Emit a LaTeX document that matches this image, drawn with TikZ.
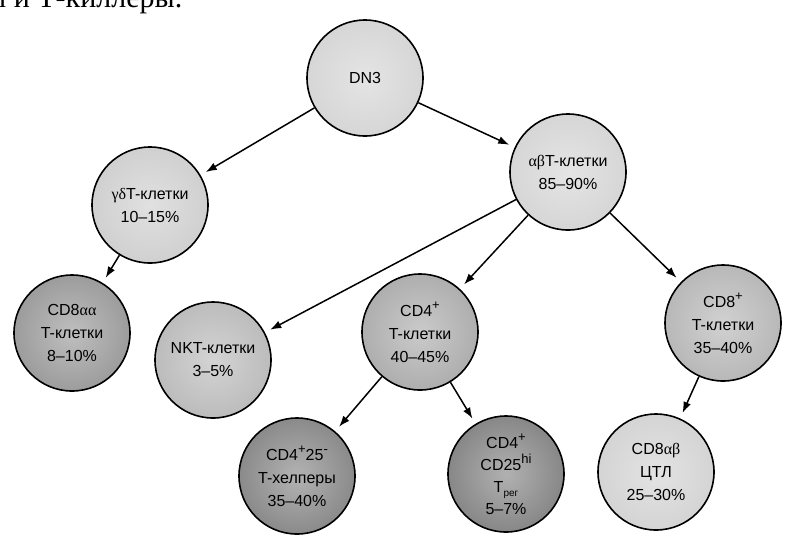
\documentclass[tikz,border=0pt]{standalone}
\usepackage{fontspec}
\setmainfont{Liberation Sans}
\newfontfamily\grk{Liberation Serif}
\newfontfamily\bodyserif{Liberation Serif}
\usetikzlibrary{arrows.meta}
\newcommand{\upmark}[1]{\raisebox{0.45em}{\fontsize{13pt}{13pt}\selectfont #1}}
\tikzset{
  cell/.style={circle, draw=black, line width=1.6pt, minimum size=116pt, inner sep=0pt,
    align=center, font=\fontsize{16pt}{23pt}\selectfont, shading=radial},
  shadeA/.style={inner color=#1!65!white, outer color=#1},
  link/.style={line width=1.5pt, -{Latex[length=11pt,width=8pt]}, shorten >=6pt}
}
\definecolor{gA}{HTML}{D6D6D6}
\definecolor{gB}{HTML}{D0D0D0}
\definecolor{gC}{HTML}{9C9C9C}
\definecolor{gD}{HTML}{BCBCBC}
\definecolor{gE}{HTML}{AEAEAE}
\definecolor{gF}{HTML}{B8B8B8}
\definecolor{gG}{HTML}{8A8A8A}
\definecolor{gH}{HTML}{878787}
\definecolor{gI}{HTML}{D4D4D4}
\begin{document}
\begin{tikzpicture}[x=1pt,y=-1pt]
\useasboundingbox (0,0) rectangle (787,539);
\node[anchor=base west, inner sep=0pt, font=\bodyserif\fontsize{30pt}{30pt}\selectfont] (toptext) at (-14,7) {ы и Т-киллеры.};
\node[cell, shadeA=gA] (dn3) at (365,78) {DN3};
\node[cell, shadeA=gB] (gd) at (150,205) {{\grk γδ}T-клетки\\10–15\%};
\node[cell, shadeA=gA] (ab) at (568,172) {{\grk αβ}T-клетки\\85–90\%};
\node[cell, shadeA=gC] (cd8aa) at (72,333) {CD8{\grk αα}\\T-клетки\\8–10\%};
\node[cell, shadeA=gD] (nkt) at (213,360) {NKT-клетки\\3–5\%};
\node[cell, shadeA=gE] (cd4) at (420,332) {CD4\upmark{+}\\T-клетки\\40–45\%};
\node[cell, shadeA=gF] (cd8) at (723,323) {CD8\upmark{+}\\T-клетки\\35–40\%};
\node[cell, shadeA=gG] (th) at (297,476) {CD4\upmark{+}25\upmark{-}\\T-хелперы\\35–40\%};
\node[cell, shadeA=gH, font=\fontsize{16pt}{22pt}\selectfont] (treg) at (506,474) {CD4\upmark{+}\\CD25\upmark{hi}\\T\raisebox{-0.25em}{\fontsize{10pt}{10pt}\selectfont рег}\\5–7\%};
\node[cell, shadeA=gI] (ctl) at (656,472) {CD8{\grk αβ}\\ЦТЛ\\25–30\%};
\draw[link] (dn3) -- (gd);
\draw[link] (dn3) -- (ab);
\draw[link] (gd) -- (cd8aa);
\draw[link] (ab) -- (nkt);
\draw[link] (ab) -- (cd4);
\draw[link] (ab) -- (cd8);
\draw[link] (cd4) -- (th);
\draw[link] (cd4) -- (treg);
\draw[link] (cd8) -- (ctl);
\end{tikzpicture}
\end{document}
